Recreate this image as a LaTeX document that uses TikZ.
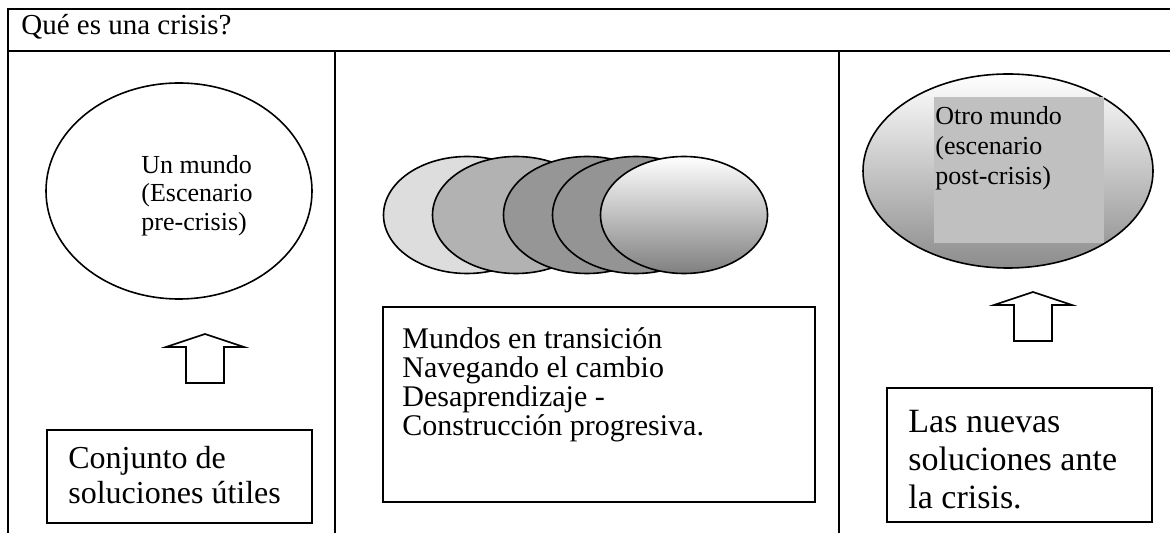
\documentclass[tikz,border=0pt]{standalone}
\usepackage{fontspec}
\setmainfont{Liberation Serif}
\definecolor{gris1}{HTML}{DDDDDD}
\definecolor{gris2}{HTML}{B2B2B2}
\definecolor{gris3}{HTML}{969696}
\definecolor{gris4}{HTML}{949494}
\definecolor{grisrect}{HTML}{C0C0C0}
\begin{document}
\begin{tikzpicture}
[x=0.5pt, y=-0.5pt, line join=miter,
 marco/.style={line width=1.2pt},
 linea/.style={line width=0.8pt},
 texto/.style={anchor=north west, align=left, inner sep=0pt}]
\useasboundingbox (0,0) rectangle (1170,533);
% marco de la tabla
\draw[marco] (1170,9)--(8,9)--(8,533);
\draw[marco] (8,51)--(1170,51);
\foreach \x in {335,839}
\draw[marco] (\x,51)--(\x,533);
\node[anchor=base west, inner sep=0pt, font=\fontsize{14.5}{16}\selectfont] (titulo) at (21,35) {Qué es una crisis?};
% columna izquierda
\draw[linea] (179,191) ellipse [x radius=133, y radius=108];
\node[texto, font=\fontsize{13}{14.25}\selectfont] (mundo) at (141,155) {Un mundo\\(Escenario\\pre-crisis)};
\draw[linea] (47,430) rectangle (312,523);
\node[texto, font=\fontsize{16}{17.5}\selectfont] (conjunto) at (68,446) {Conjunto de\\soluciones útiles};
% columna central
\foreach \x/\c in {467/gris1,516/gris2,587/gris3,636/gris4}
\draw[linea, fill=\c] (\x,215) ellipse [x radius=83.5, y radius=58.5];
\draw[linea, top color=white, bottom color=gray] (684,215) ellipse [x radius=83.5, y radius=58.5];
\draw[linea] (383,307) rectangle (815,502);
\node[texto, font=\fontsize{15}{14.5}\selectfont] (transicion) at (402,327) {Mundos en transición\\Navegando el cambio\\Desaprendizaje -\\Construcción progresiva.};
% columna derecha
\draw[linea, top color=white, bottom color=black!45] (1008,171) ellipse [x radius=145, y radius=97];
\fill[grisrect] (934,97) rectangle (1104,243);
\node[texto, font=\fontsize{13}{15}\selectfont] (otro) at (935,106) {Otro mundo\\(escenario\\post-crisis)};
\draw[linea] (887,388) rectangle (1152,522);
\node[texto, font=\fontsize{17}{19}\selectfont] (nuevas) at (908,410) {Las nuevas\\soluciones ante\\la crisis.};
% flechas
\foreach \x/\y in {205/334,1033/292}
\draw[linea] (\x,\y)--++(39,13)--++(-20,0)--++(0,36)--++(-38,0)--++(0,-36)--++(-20,0)--cycle;
\end{tikzpicture}
\end{document}
